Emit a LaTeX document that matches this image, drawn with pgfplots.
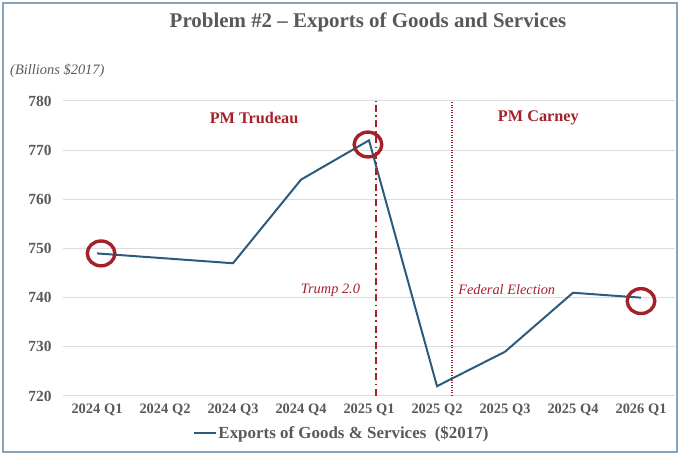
\documentclass[border=0pt]{standalone}
\usepackage{pgfplots}
\pgfplotsset{compat=1.18}
\usepackage{fontspec}
\setmainfont{Liberation Serif}
\definecolor{txtgray}{HTML}{595959}
\definecolor{linec}{HTML}{2C5B7E}
\definecolor{darkred}{HTML}{A3222A}
\definecolor{gridc}{HTML}{DCDCDC}
\definecolor{framec}{HTML}{86A3BE}
\begin{document}
\begin{tikzpicture}[x=1bp,y=1bp]
\path[use as bounding box] (0,0) rectangle (680,455);
\draw[framec, line width=1.5bp] (3,3) rectangle (677,452);
\node[txtgray, font=\fontsize{21}{24}\selectfont\bfseries] at (368,433) {Problem \#2 – Exports of Goods and Services};
\node[txtgray, anchor=west, inner sep=0, font=\fontsize{14.5}{16}\selectfont\itshape] at (10,384) {(Billions \$2017)};
\begin{axis}[
  at={(63bp,59bp)}, anchor=south west,
  scale only axis, width=612bp, height=295bp,
  xmin=-0.5, xmax=8.5, ymin=720, ymax=780,
  ytick={720,730,...,780},
  xtick={0,...,8},
  xticklabels={2024 Q1,2024 Q2,2024 Q3,2024 Q4,2025 Q1,2025 Q2,2025 Q3,2025 Q4,2026 Q1},
  /pgf/number format/assume math mode=true,
  /pgf/number format/1000 sep={},
  ymajorgrids, grid style={gridc, line width=1bp},
  axis line style={draw=none},
  major tick length=0pt,
  tick label style={txtgray},
  yticklabel style={font=\fontsize{15.5}{17}\selectfont\bfseries, xshift=-8bp},
  xticklabel style={font=\fontsize{14.5}{16}\selectfont\bfseries, yshift=-4bp},
  clip=false,
  legend style={at={(0.455,-0.125)}, anchor=center, draw=none, fill=none,
    font=\fontsize{17}{19}\selectfont\bfseries, text=txtgray, inner sep=0pt,
    nodes={inner sep=1bp}},
  legend image code/.code={\draw[#1] (0bp,0bp) -- (22bp,0bp);},
]
\addplot[linec, line width=2bp] coordinates {
(0,749) (1,748) (2,747) (3,764) (4,772) (5,722) (6,729) (7,741) (8,740)};
\addlegendentry{Exports of Goods \& Services\ \ (\$2017)}
\addplot[forget plot, darkred, line width=2bp, dash pattern=on 7bp off 3.5bp on 1.8bp off 3.5bp] coordinates {(4.1,720) (4.1,780)};
\addplot[forget plot, darkred, line width=1.2bp, dash pattern=on 1.2bp off 1.3bp] coordinates {(5.22,720) (5.22,780)};
\addplot[forget plot, only marks, mark=o, mark size=13.8bp, darkred,
  mark options={line width=3.4bp, yscale=0.9}] coordinates {
(0.06,749) (3.985,771.15) (8,739.3)};
\node[darkred, font=\fontsize{16.3}{18}\selectfont\bfseries] at (axis cs:2.31,776.5) {PM Trudeau};
\node[darkred, font=\fontsize{16.3}{18}\selectfont\bfseries] at (axis cs:6.49,776.6) {PM Carney};
\node[darkred, anchor=east, inner sep=0, font=\fontsize{14.4}{16}\selectfont\itshape] at (axis cs:3.87,741.6) {Trump 2.0};
\node[darkred, anchor=west, inner sep=0, font=\fontsize{14.4}{16}\selectfont\itshape] at (axis cs:5.31,741.6) {Federal Election};
\end{axis}
\end{tikzpicture}
\end{document}
